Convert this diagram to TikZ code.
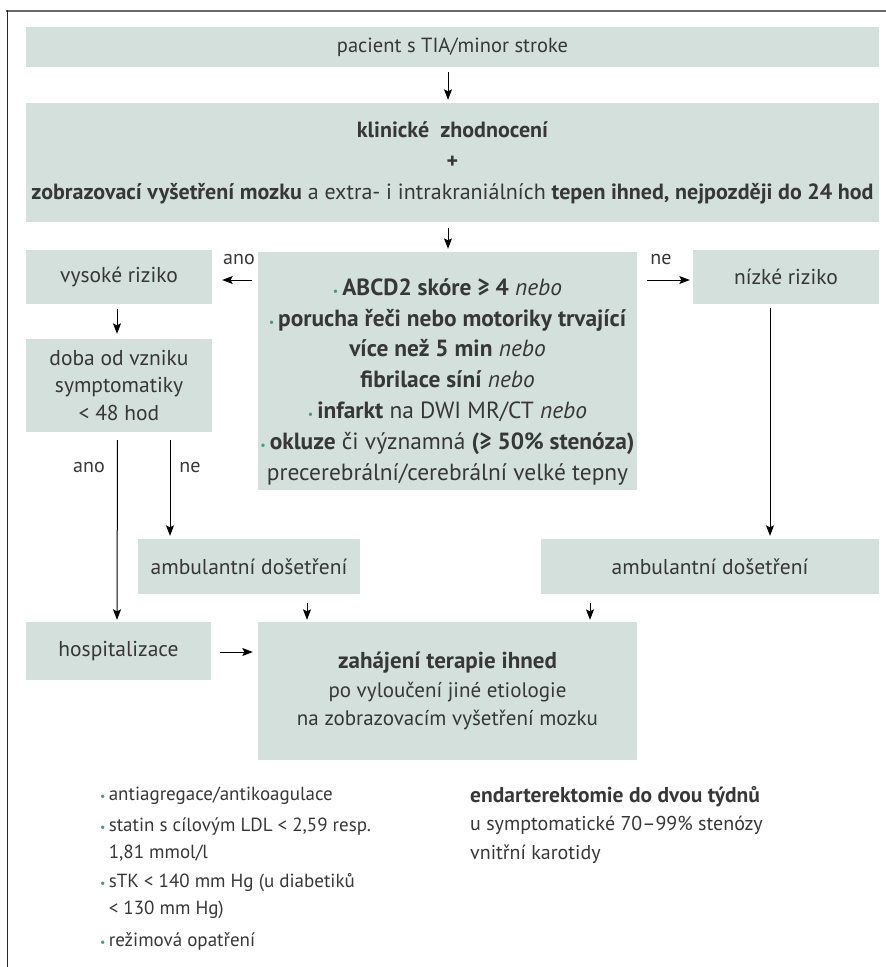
\documentclass[tikz,border=0pt]{standalone}
\usepackage{fontspec}
\setmainfont{PT Sans}
\usetikzlibrary{arrows.meta}
\definecolor{boxc}{RGB}{211,224,220}
\definecolor{txt}{RGB}{55,55,55}
\definecolor{bul}{RGB}{74,150,135}
\definecolor{framegray}{RGB}{105,105,105}
\newcommand{\bl}{{\color{bul}\fontsize{12}{12}\selectfont •}\,}
\newcommand{\fs}[2]{\fontsize{#1}{#2}\selectfont}
\begin{document}
\begin{tikzpicture}[x=1pt,y=-1pt,
  box/.style={fill=boxc, inner sep=0pt, align=center, text=txt, font=\fs{21.5}{28}},
  arr/.style={draw=black, line width=1pt, -{Stealth[length=10.5pt,width=8pt,inset=2pt]}},
  lab/.style={text=txt, font=\fs{20}{24}, inner sep=0pt},
  lst/.style={text=txt, font=\fs{19}{27}, inner sep=0pt, anchor=west, align=left}]
\useasboundingbox (0,0) rectangle (886,967);
% frame
\coordinate (fa) at (6,11);
\coordinate (fb) at (886,11);
\coordinate (fc) at (7.5,967);
\coordinate (fd) at (7.5,10);
\draw[line width=2.5pt, framegray] (fa) -- (fb);
\draw[line width=1.4pt, black!85] (fd) -- (fc);
% boxes
\node[box, minimum width=853, minimum height=40, font=\fs{20.5}{24}] (top) at (452.5,47) {pacient s TIA/minor stroke};
\node[box, minimum width=853, minimum height=119, font=\fs{22}{31}] (klin) at (452.5,162.5)
 {\textbf{klinické \ zhodnocení}\\ \textbf{+}\\ \textbf{zobrazovací vyšetření mozku} a extra- i intrakraniálních \textbf{tepen ihned, nejpozději do 24 hod}};
\node[box, minimum width=379, minimum height=238, font=\fs{23.4}{30.8}] (crit) at (447.5,371)
 {\rule{0pt}{38pt}\bl\textbf{ABCD2 skóre ≥ 4} \textit{nebo}\\
  \bl\textbf{porucha řeči nebo motoriky trvající}\\
  \textbf{více než 5 min} \textit{nebo}\\
  \textbf{fibrilace síní} \textit{nebo}\\
  \bl\textbf{infarkt} na DWI MR/CT \textit{nebo}\\
  \bl\textbf{okluze} či významná \textbf{(≥ 50\% stenóza)}\\
  precerebrální/cerebrální velké tepny};
\node[box, minimum width=186, minimum height=54] (vys) at (119,277) {vysoké riziko};
\node[box, minimum width=186, minimum height=54] (niz) at (786,277) {nízké riziko};
\node[box, minimum width=186, minimum height=93, font=\fs{21.5}{27.5}] (doba) at (119,385.5) {doba od vzniku\\ symptomatiky\\ < 48 hod};
\node[box, minimum width=222, minimum height=55] (amb1) at (249,566.5) {ambulantní došetření};
\node[box, minimum width=338, minimum height=55] (amb2) at (710,566.5) {ambulantní došetření};
\node[box, minimum width=185, minimum height=58] (hosp) at (118.5,651) {hospitalizace};
\node[box, minimum width=379, minimum height=138, font=\fs{21}{28.5}] (zah) at (447.5,691)
 {{\fs{23}{28.5}\textbf{zahájení terapie ihned}}\\ po vyloučení jiné etiologie\\ na zobrazovacím vyšetření mozku};
% labels
\node[lab] (lano1) at (239,259) {ano};
\node[lab] (lne1) at (661,259) {ne};
\node[lab] (lano2) at (89,467) {ano};
\node[lab] (lne2) at (190,467) {ne};
% arrows
\draw[arr] ([xshift=-4.5pt,yshift=-5pt]top.south) -- ([xshift=-4.5pt,yshift=3pt]klin.north);
\draw[arr] ([xshift=-4.5pt,yshift=-6pt]klin.south) -- ([xshift=0.5pt,yshift=3pt]crit.north);
\coordinate (cw) at ([xshift=-6pt]crit.west);
\coordinate (ve) at ([xshift=10pt,yshift=-3pt]vys.east);
\draw[arr] (cw |- ve) -- (ve);
\coordinate (ce) at ([xshift=10pt]crit.east);
\coordinate (nw) at ([xshift=-3pt,yshift=-3pt]niz.west);
\draw[arr] (ce |- nw) -- (nw);
\draw[arr] ([xshift=-2pt,yshift=-5pt]vys.south) -- ([xshift=-2pt,yshift=5pt]doba.north);
\draw[arr] ([xshift=-1.5pt,yshift=-8pt]doba.south) -- ([xshift=-1.5pt,yshift=2pt]hosp.north);
\coordinate (d2) at ([xshift=51pt,yshift=-8pt]doba.south);
\coordinate (a1t) at ([yshift=3pt]amb1.north);
\draw[arr] (d2) -- (d2 |- a1t);
\draw[arr] ([xshift=-16pt,yshift=-4pt]niz.south) -- ([xshift=60pt,yshift=3pt]amb2.north);
\coordinate (a1b) at ([xshift=58pt,yshift=-9pt]amb1.south);
\coordinate (zt) at ([yshift=2pt]zah.north);
\draw[arr] (a1b) -- (a1b |- zt);
\coordinate (a2b) at ([xshift=-120pt,yshift=-9pt]amb2.south);
\draw[arr] (a2b) -- (a2b |- zt);
\coordinate (hs) at ([xshift=9pt,yshift=-1pt]hosp.east);
\coordinate (zw) at ([xshift=-5pt]zah.west);
\draw[arr] (hs) -- (zw |- hs);
% bottom texts
\node[lst] (l1) at (100,796) {\bl antiagregace/antikoagulace};
\node[lst] (l2) at (100,839.5) {\bl statin s cílovým LDL < 2,59 resp.\\ \phantom{\bl}1,81 mmol/l};
\node[lst] (l3) at (100,896.5) {\bl sTK < 140 mm Hg (u diabetiků\\ \phantom{\bl}< 130 mm Hg)};
\node[lst] (l4) at (100,941) {\bl režimová opatření};
\node[lst, font=\fs{20}{28.5}] (e1) at (470,825) {{\fs{21.5}{28.5}\textbf{endarterektomie do dvou týdnů}}\\ u symptomatické 70–99\% stenózy\\ vnitřní karotidy};
\end{tikzpicture}
\end{document}
